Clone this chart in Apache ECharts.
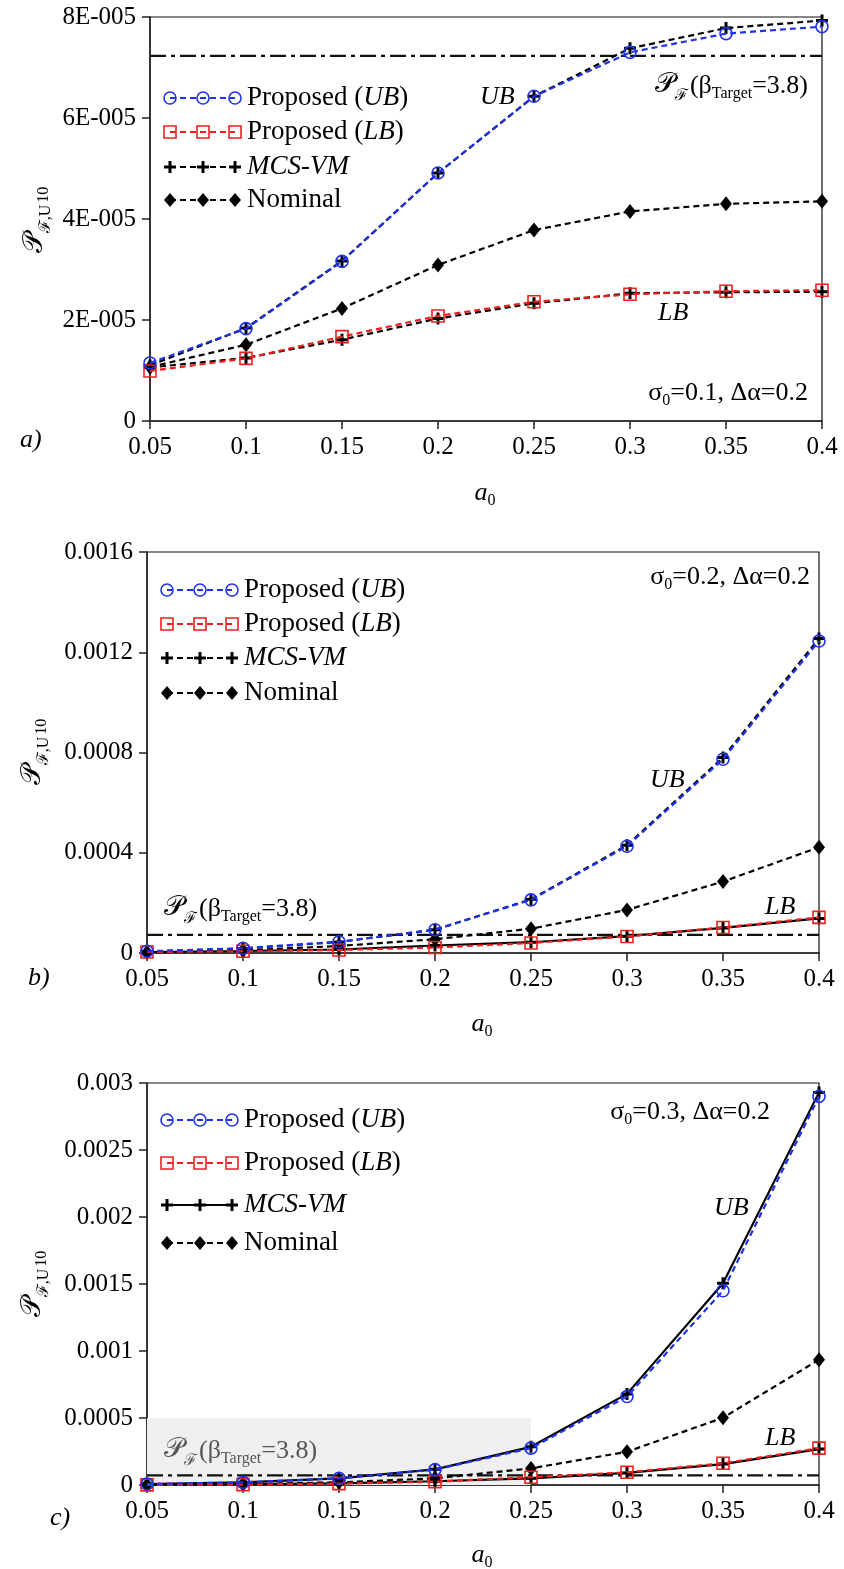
<!DOCTYPE html>
<html><head><meta charset="utf-8">
<script src="https://cdn.jsdelivr.net/npm/echarts@6/dist/echarts.min.js"></script>
<style>html,body{margin:0;padding:0;background:#fff}#c{width:844px;height:1569px}</style>
</head><body><div id="c"></div>
<script>
// ---------------- DATA ----------------
const categories = ['0.05','0.1','0.15','0.2','0.25','0.3','0.35','0.4'];
const targetPf = 7.23e-5;   // P_F(beta_Target = 3.8)

// Panel a (sigma0 = 0.1)
const aUB     = [1.15e-5, 1.83e-5, 3.16e-5, 4.91e-5, 6.43e-5, 7.30e-5, 7.67e-5, 7.81e-5];
const aLB     = [0.99e-5, 1.24e-5, 1.67e-5, 2.08e-5, 2.36e-5, 2.51e-5, 2.57e-5, 2.59e-5];
const aMcsUB  = [1.10e-5, 1.84e-5, 3.17e-5, 4.91e-5, 6.43e-5, 7.38e-5, 7.78e-5, 7.93e-5];
const aMcsLB  = [1.06e-5, 1.25e-5, 1.61e-5, 2.03e-5, 2.33e-5, 2.53e-5, 2.55e-5, 2.56e-5];
const aNom    = [1.07e-5, 1.51e-5, 2.23e-5, 3.09e-5, 3.78e-5, 4.15e-5, 4.30e-5, 4.35e-5];

// Panel b (sigma0 = 0.2)
const bUB     = [0.07e-4, 0.19e-4, 0.45e-4, 0.93e-4, 2.12e-4, 4.26e-4, 7.73e-4, 12.45e-4];
const bLB     = [0.04e-4, 0.07e-4, 0.12e-4, 0.22e-4, 0.40e-4, 0.66e-4, 1.02e-4, 1.42e-4];
const bMcsUB  = [0.06e-4, 0.18e-4, 0.44e-4, 0.93e-4, 2.14e-4, 4.30e-4, 7.80e-4, 12.55e-4];
const bMcsLB  = [0.04e-4, 0.08e-4, 0.14e-4, 0.30e-4, 0.43e-4, 0.67e-4, 1.00e-4, 1.38e-4];
const bNom    = [0.03e-4, 0.10e-4, 0.28e-4, 0.55e-4, 0.97e-4, 1.72e-4, 2.85e-4, 4.22e-4];

// Panel c (sigma0 = 0.3)
const cUB     = [0.07e-4, 0.20e-4, 0.50e-4, 1.15e-4, 2.75e-4, 6.60e-4, 14.5e-4, 29.0e-4];
const cLB     = [0.01e-4, 0.03e-4, 0.10e-4, 0.25e-4, 0.58e-4, 0.95e-4, 1.62e-4, 2.75e-4];
const cMcsUB  = [0.07e-4, 0.20e-4, 0.50e-4, 1.17e-4, 2.85e-4, 6.80e-4, 15.05e-4, 29.3e-4];
const cMcsLB  = [0.01e-4, 0.04e-4, 0.12e-4, 0.28e-4, 0.50e-4, 0.90e-4, 1.56e-4, 2.68e-4];
const cNom    = [0.02e-4, 0.07e-4, 0.20e-4, 0.50e-4, 1.24e-4, 2.48e-4, 5.02e-4, 9.35e-4];
const cShade  = {x0: '0.05', x1: '0.25', y0: 0, y1: 0.0005};

// y axis ranges
const yMax = [8e-5, 0.0016, 0.003];
const yStep = [2e-5, 0.0004, 0.0005];

// ---------------- STYLE ----------------
const FONT = 'Liberation Serif';
const BLUE = '#1f33ee', RED = '#ee1f1f', BLACK = '#000';
const DASH = [6, 4];
const DASHDOT = [16, 5, 4, 5];
const plusPath = 'path://M4.5,0h3v4.5h4.5v3h-4.5v4.5h-3v-4.5h-4.5v-3h4.5z';

const grids = [
  {left: 150, right: 22, top: 17, height: 404},
  {left: 147, right: 25, top: 552, height: 401},
  {left: 147, right: 25, top: 1083, height: 402}
];

function yFmt(i) {
  return function (v) {
    if (v === 0) return '0';
    if (i === 0) return Math.round(v / 1e-5) + 'E-005';
    return String(+v.toFixed(4));
  };
}

const symStyle = {
  circle: {symbol: 'circle', symbolSize: 12, itemStyle: {color: 'rgba(0,0,0,0)', borderColor: BLUE, borderWidth: 1.6}},
  rect: {symbol: 'rect', symbolSize: 12, itemStyle: {color: 'rgba(0,0,0,0)', borderColor: RED, borderWidth: 1.6}},
  plus: {symbol: plusPath, symbolSize: 12, itemStyle: {color: BLACK}},
  diamond: {symbol: 'diamond', symbolSize: [12, 15], itemStyle: {color: BLACK}}
};

function mk(gi, name, data, color, dashed, sym, z) {
  const s = symStyle[sym];
  return {
    type: 'line', name: name, xAxisIndex: gi, yAxisIndex: gi, data: data,
    symbol: s.symbol, symbolSize: s.symbolSize, showAllSymbol: true,
    itemStyle: s.itemStyle,
    lineStyle: {color: color, width: 2.2, type: dashed ? DASH : 'solid'},
    z: z, animation: false, silent: true, emphasis: {disabled: true}
  };
}

function targetSeries(gi) {
  return {
    type: 'line', name: 'Target', xAxisIndex: gi, yAxisIndex: gi,
    data: categories.map(() => targetPf),
    symbol: 'none', silent: true, animation: false, z: 2,
    lineStyle: {color: '#111', width: 2.2, type: DASHDOT},
    emphasis: {disabled: true}
  };
}

const series = [];
const panels = [
  [aUB, aLB, aMcsUB, aMcsLB, aNom, [true, true]],
  [bUB, bLB, bMcsUB, bMcsLB, bNom, [true, false]],
  [cUB, cLB, cMcsUB, cMcsLB, cNom, [false, false]]
];
panels.forEach((p, gi) => {
  series.push(targetSeries(gi));
  series.push(mk(gi, 'MCS-VM UB', p[2], BLACK, p[5][0], 'plus', 3));
  series.push(mk(gi, 'MCS-VM LB', p[3], BLACK, p[5][1], 'plus', 3));
  series.push(mk(gi, 'Nominal', p[4], BLACK, true, 'diamond', 4));
  series.push(mk(gi, 'Proposed LB', p[1], RED, true, 'rect', 5));
  series.push(mk(gi, 'Proposed UB', p[0], BLUE, true, 'circle', 6));
});
// grey shaded region in panel c
series.push({
  type: 'line', xAxisIndex: 2, yAxisIndex: 2, data: [], silent: true, z: 0,
  markArea: {silent: true, itemStyle: {color: '#efefef'},
    data: [[{xAxis: cShade.x0, yAxis: cShade.y0}, {xAxis: cShade.x1, yAxis: cShade.y1}]]}
});

const xAxes = grids.map((g, i) => ({
  type: 'category', gridIndex: i, data: categories, boundaryGap: false,
  axisLine: {lineStyle: {color: '#222', width: 1.5}},
  axisTick: {alignWithLabel: true, length: 8, lineStyle: {color: '#222', width: 1.5}},
  axisLabel: {fontFamily: FONT, fontSize: 25, color: '#000', margin: 14},
  splitLine: {show: false}
}));
const yAxes = grids.map((g, i) => ({
  type: 'value', gridIndex: i, min: 0, max: yMax[i], interval: yStep[i],
  axisLine: {show: true, lineStyle: {color: '#222', width: 1.5}},
  axisTick: {show: true, length: 8, lineStyle: {color: '#222', width: 1.5}},
  axisLabel: {fontFamily: FONT, fontSize: 25, color: '#000', margin: 14, formatter: yFmt(i)},
  splitLine: {show: false}
}));

// ---------------- TEXT / LEGEND GRAPHICS ----------------
const baseRich = {
  n: {fontFamily: FONT, fontSize: 26, fill: '#000', verticalAlign: 'bottom'},
  L: {fontFamily: FONT, fontSize: 27, fill: '#000', verticalAlign: 'bottom'},
  Li: {fontFamily: FONT, fontSize: 27, fontStyle: 'italic', fill: '#000', verticalAlign: 'bottom'},
  i: {fontFamily: FONT, fontSize: 26, fontStyle: 'italic', fill: '#000', verticalAlign: 'bottom'},
  s: {fontFamily: FONT, fontSize: 16, fill: '#000', verticalAlign: 'bottom', padding: [0, 0, -3, 0]},
  P: {fontFamily: FONT, fontSize: 28, fill: '#000', verticalAlign: 'bottom'},
  F: {fontFamily: FONT, fontSize: 16, fill: '#000', verticalAlign: 'bottom', padding: [0, 2, -5, 0]}
};
function cloneRich(color) {
  const r = {};
  for (const k in baseRich) r[k] = Object.assign({}, baseRich[k], {fill: color});
  return r;
}
function txt(x, y, text, align, color, extra) {
  return Object.assign({
    type: 'text', x: x, y: y, silent: true, z: 100,
    style: {text: text, rich: cloneRich(color || '#000'), align: align || 'left', verticalAlign: 'middle',
      fontFamily: FONT, fontSize: 26, fill: color || '#000'}
  }, extra || {});
}

const targetText = '{P|𝒫}{F|ℱ}{n|(β}{s|Target}{n|=3.8)}';
const yTitle = '{P|𝒫}{F|ℱ,U}{s|10}';

function legend(x0, ys, mcsDashed) {
  const els = [];
  const xs = [x0, x0 + 33, x0 + 65];
  const defs = [
    {color: BLUE, dash: true, sym: 'circle', text: '{L|Proposed (}{Li|UB}{L|)}'},
    {color: RED, dash: true, sym: 'rect', text: '{L|Proposed (}{Li|LB}{L|)}'},
    {color: BLACK, dash: mcsDashed, sym: 'plus', text: '{Li|MCS-VM}'},
    {color: BLACK, dash: true, sym: 'diamond', text: '{L|Nominal}'}
  ];
  defs.forEach((d, k) => {
    const y = ys[k];
    els.push({type: 'line', silent: true, z: 100,
      shape: {x1: xs[0], y1: y, x2: xs[2], y2: y},
      style: {stroke: d.color, lineWidth: 2, lineDash: d.dash ? DASH : null}});
    xs.forEach(x => {
      if (d.sym === 'circle') els.push({type: 'circle', silent: true, z: 101, shape: {cx: x, cy: y, r: 6}, style: {fill: 'none', stroke: BLUE, lineWidth: 1.6}});
      if (d.sym === 'rect') els.push({type: 'rect', silent: true, z: 101, shape: {x: x - 6, y: y - 6, width: 12, height: 12}, style: {fill: 'none', stroke: RED, lineWidth: 1.6}});
      if (d.sym === 'plus') {
        els.push({type: 'rect', silent: true, z: 101, shape: {x: x - 1.5, y: y - 6, width: 3, height: 12}, style: {fill: BLACK}});
        els.push({type: 'rect', silent: true, z: 101, shape: {x: x - 6, y: y - 1.5, width: 12, height: 3}, style: {fill: BLACK}});
      }
      if (d.sym === 'diamond') els.push({type: 'polygon', silent: true, z: 101, shape: {points: [[x, y - 7], [x + 6, y], [x, y + 7], [x - 6, y]]}, style: {fill: BLACK}});
    });
    els.push(txt(xs[2] + 12, y, d.text, 'left'));
  });
  return els;
}

const graphics = [].concat(
  // panel a
  legend(170, [98, 132, 167, 200], true),
  [
    txt(808, 85, targetText, 'right'),
    txt(480, 97, '{i|UB}', 'left'),
    txt(658, 313, '{i|LB}', 'left'),
    txt(808, 393, '{n|σ}{s|0}{n|=0.1, Δα=0.2}', 'right'),
    txt(20, 440, '{i|a)}', 'left'),
    txt(485, 493, '{i|a}{s|0}', 'center'),
    txt(35, 220, yTitle, 'center', '#000', {rotation: Math.PI / 2})
  ],
  // panel b
  legend(167, [590, 624, 658, 693], true),
  [
    txt(164, 908, targetText, 'left'),
    txt(650, 780, '{i|UB}', 'left'),
    txt(765, 907, '{i|LB}', 'left'),
    txt(810, 577, '{n|σ}{s|0}{n|=0.2, Δα=0.2}', 'right'),
    txt(28, 978, '{i|b)}', 'left'),
    txt(482, 1024, '{i|a}{s|0}', 'center'),
    txt(33, 752, yTitle, 'center', '#000', {rotation: Math.PI / 2})
  ],
  // panel c
  legend(167, [1120, 1163, 1205, 1243], false),
  [
    txt(164, 1450, targetText, 'left', '#555'),
    txt(714, 1208, '{i|UB}', 'left'),
    txt(765, 1438, '{i|LB}', 'left'),
    txt(770, 1112, '{n|σ}{s|0}{n|=0.3, Δα=0.2}', 'right'),
    txt(50, 1518, '{i|c)}', 'left'),
    txt(482, 1555, '{i|a}{s|0}', 'center'),
    txt(33, 1284, yTitle, 'center', '#000', {rotation: Math.PI / 2})
  ]
);

const chart = echarts.init(document.getElementById('c'), null, {renderer: 'canvas'});
chart.setOption({
  animation: false,
  backgroundColor: '#fff',
  grid: grids.map(g => Object.assign({show: true, borderColor: '#111', borderWidth: 1.2, backgroundColor: 'transparent', containLabel: false}, g)),
  xAxis: xAxes,
  yAxis: yAxes,
  series: series,
  graphic: graphics
});
</script></body></html>
